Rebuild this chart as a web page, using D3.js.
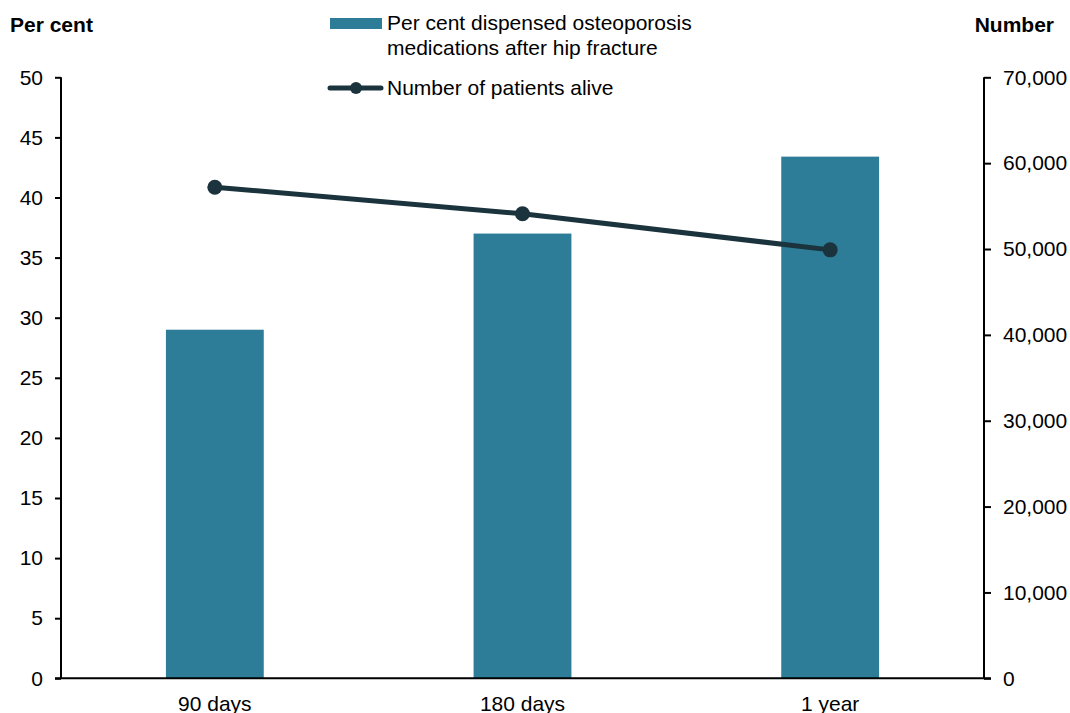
<!DOCTYPE html>
<html><head><meta charset="utf-8">
<script src="https://cdn.jsdelivr.net/npm/d3@7"></script>
<style>body{margin:0;background:#fff}text{font-family:"Liberation Sans",Arial,sans-serif}</style>
</head><body>
<svg id="c" width="1070" height="713"></svg>
<script>
const categories = ["90 days", "180 days", "1 year"];
const percentDispensed = [29.0, 37.0, 43.4];
const patientsAlive = [57200, 54100, 49900];
const leftTicks = [0,5,10,15,20,25,30,35,40,45,50];
const rightTicks = [0,10000,20000,30000,40000,50000,60000,70000];
const barColor = "#2E7D98", lineColor = "#1B333D";

const svg = d3.select("#c");
const L = 61, R = 984, T = 77.3, B = 678.3;
const fs = "21px";
const x = d3.scaleBand().domain(categories).range([L, R]).paddingInner(0.682).paddingOuter(0.341);
const yL = d3.scaleLinear().domain([0, 50]).range([B, T]);
const yR = d3.scaleLinear().domain([0, 70000]).range([B, T]);

// bars
svg.append("g").selectAll("rect").data(categories).join("rect")
  .attr("x", d => x(d)).attr("width", x.bandwidth())
  .attr("y", (d,i) => yL(percentDispensed[i]))
  .attr("height", (d,i) => B - yL(percentDispensed[i]))
  .attr("fill", barColor);

// axes
const gl = svg.append("g").attr("transform", `translate(${L},0)`)
  .call(d3.axisLeft(yL).tickValues(leftTicks).tickSize(6).tickPadding(12));
const gr = svg.append("g").attr("transform", `translate(${R},0)`)
  .call(d3.axisRight(yR).tickValues(rightTicks).tickSize(7).tickPadding(12).tickFormat(d3.format(",")));
const gx = svg.append("g").attr("transform", `translate(0,${B})`)
  .call(d3.axisBottom(x).tickSize(0).tickPadding(18));
[gl, gr, gx].forEach(g => {
  g.selectAll("text").style("font-size", fs).attr("fill", "#000");
  g.selectAll("line").attr("stroke", "#000").attr("stroke-width", 2);
  g.select(".domain").attr("stroke", "#000").attr("stroke-width", 2);
});
gx.select(".domain").attr("d", `M${L-6},0H${R+7}`);
gl.select(".domain").attr("d", `M0,${T}V${B}`);
gr.select(".domain").attr("d", `M0,${T}V${B}`);
gx.selectAll("text").attr("dy", "0.71em");

// line
const line = d3.line().x((d,i) => x(categories[i]) + x.bandwidth()/2).y(d => yR(d));
svg.append("path").datum(patientsAlive).attr("d", line)
  .attr("fill", "none").attr("stroke", lineColor).attr("stroke-width", 5);
svg.append("g").selectAll("circle").data(patientsAlive).join("circle")
  .attr("cx", (d,i) => x(categories[i]) + x.bandwidth()/2).attr("cy", d => yR(d))
  .attr("r", 7.5).attr("fill", lineColor);

// axis titles
svg.append("text").attr("x", 10).attr("y", 32).text("Per cent")
  .style("font-size", fs).style("font-weight", "bold");
svg.append("text").attr("x", 1054).attr("y", 32).attr("text-anchor", "end").text("Number")
  .style("font-size", fs).style("font-weight", "bold");

// legend
const lg = svg.append("g");
lg.append("rect").attr("x", 330).attr("y", 18).attr("width", 52).attr("height", 11).attr("fill", barColor);
lg.append("text").attr("x", 387).attr("y", 30).style("font-size", fs).text("Per cent dispensed osteoporosis");
lg.append("text").attr("x", 387).attr("y", 55).style("font-size", fs).text("medications after hip fracture");
lg.append("line").attr("x1", 330).attr("x2", 381).attr("y1", 88).attr("y2", 88)
  .attr("stroke", lineColor).attr("stroke-width", 5).attr("stroke-linecap", "round");
lg.append("circle").attr("cx", 356).attr("cy", 88).attr("r", 6).attr("fill", lineColor);
lg.append("text").attr("x", 387).attr("y", 95).style("font-size", fs).text("Number of patients alive");
</script>
</body></html>
